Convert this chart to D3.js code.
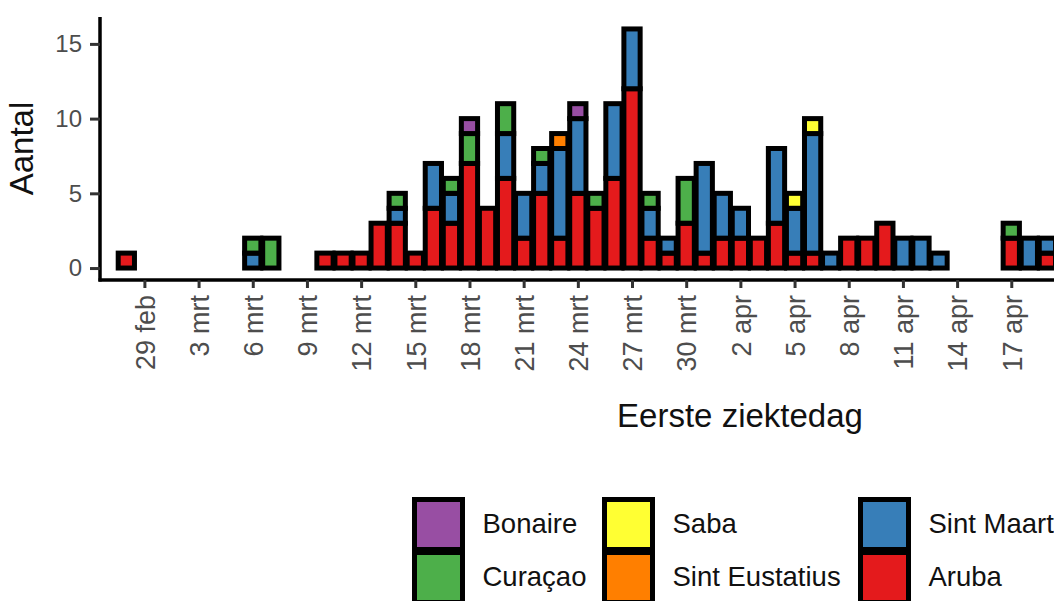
<!DOCTYPE html>
<html>
<head>
<meta charset="utf-8">
<script src="https://cdn.jsdelivr.net/npm/d3@7"></script>
<style>
body { margin: 0; background: #fff; }
text { font-family: "Liberation Sans", Arial, sans-serif; }
</style>
</head>
<body>
<div id="chart"></div>
<script>
var w = 1054,
    h = 601;

// one value per day, 28 feb .. 19 apr 2020
var firstDay = new Date(2020, 1, 28),
    lastDay = new Date(2020, 3, 19);

var aruba        = [1,0,0,0,0,0,0,0,0,0,0, 1,1,1,3,3,1,4,3,7,4,6, 2,5,2,5,4,6,12,2,1,3,1, 2,2,2,3,1,1,0,2,2,3,0, 0,0,0,0,0,2,0,1];
var sintMaarten  = [0,0,0,0,0,0,0,1,0,0,0, 0,0,0,0,1,0,3,2,0,0,3, 3,2,6,5,0,5,4,2,1,0,6, 3,2,0,5,3,8,1,0,0,0,2, 2,1,0,0,0,0,2,1];
var sintEust     = [0,0,0,0,0,0,0,0,0,0,0, 0,0,0,0,0,0,0,0,0,0,0, 0,0,1,0,0,0,0,0,0,0,0, 0,0,0,0,0,0,0,0,0,0,0, 0,0,0,0,0,0,0,0];
var saba         = [0,0,0,0,0,0,0,0,0,0,0, 0,0,0,0,0,0,0,0,0,0,0, 0,0,0,0,0,0,0,0,0,0,0, 0,0,0,0,1,1,0,0,0,0,0, 0,0,0,0,0,0,0,0];
var curacao      = [0,0,0,0,0,0,0,1,2,0,0, 0,0,0,0,1,0,0,1,2,0,2, 0,1,0,0,1,0,0,1,0,3,0, 0,0,0,0,0,0,0,0,0,0,0, 0,0,0,0,0,1,0,0];
var bonaire      = [0,0,0,0,0,0,0,0,0,0,0, 0,0,0,0,0,0,0,0,1,0,0, 0,0,0,1,0,0,0,0,0,0,0, 0,0,0,0,0,0,0,0,0,0,0, 0,0,0,0,0,0,0,0];

// stack order bottom -> top
var islands = ["Aruba", "Sint Maarten", "Sint Eustatius", "Saba", "Curaçao", "Bonaire"];
var series = [aruba, sintMaarten, sintEust, saba, curacao, bonaire];
var colors = ["#E41A1C", "#377EB8", "#FF7F00", "#FFFF33", "#4DAF4A", "#984EA3"];

// legend order (column wise)
var legendOrder = ["Bonaire", "Curaçao", "Saba", "Sint Eustatius", "Sint Maarten", "Aruba"];

var tickDays = [new Date(2020,1,29), new Date(2020,2,3), new Date(2020,2,6), new Date(2020,2,9),
                new Date(2020,2,12), new Date(2020,2,15), new Date(2020,2,18), new Date(2020,2,21),
                new Date(2020,2,24), new Date(2020,2,27), new Date(2020,2,30), new Date(2020,3,2),
                new Date(2020,3,5), new Date(2020,3,8), new Date(2020,3,11), new Date(2020,3,14),
                new Date(2020,3,17)];
var tickLabels = ["29 feb","3 mrt","6 mrt","9 mrt","12 mrt","15 mrt","18 mrt","21 mrt","24 mrt",
                  "27 mrt","30 mrt","2 apr","5 apr","8 apr","11 apr","14 apr","17 apr"];

var days = d3.timeDay.range(firstDay, d3.timeDay.offset(lastDay, 1));

var table = days.map(function (d, i) {
    var row = { day: d };
    islands.forEach(function (k, j) { row[k] = series[j][i]; });
    return row;
});

var stacked = d3.stack().keys(islands)(table);

var dayW = 18.06,
    left = 100,
    axisY = 280;

var x = d3.scaleTime()
    .domain([d3.timeHour.offset(firstDay, -35), new Date(2020, 4, 1)])
    .range([left, left + dayW * (35 / 24 + 63)]);

var y = d3.scaleLinear().domain([-0.8, 16.8]).range([axisY, 17]);

var svg = d3.select("#chart")
    .append("svg")
    .attr("width", w)
    .attr("height", h);

// bars
var barW = dayW * 0.9;
svg.append("g")
    .selectAll("g")
    .data(stacked)
    .enter()
    .append("g")
    .attr("fill", function (d, i) { return colors[i]; })
    .selectAll("rect")
    .data(function (d) { return d.filter(function (s) { return s[1] > s[0]; }); })
    .enter()
    .append("rect")
    .attr("x", function (d) { return x(d.data.day) - barW / 2; })
    .attr("y", function (d) { return y(d[1]); })
    .attr("width", barW)
    .attr("height", function (d) { return y(d[0]) - y(d[1]); })
    .attr("stroke", "#000")
    .attr("stroke-width", 5);

// y axis
var yAxis = d3.axisLeft(y).tickValues([0, 5, 10, 15]).tickSize(10).tickPadding(8);
var gy = svg.append("g")
    .attr("transform", "translate(" + left + ",0)")
    .call(yAxis);
gy.select(".domain").attr("stroke", "#000").attr("stroke-width", 3.5)
    .attr("d", "M0," + y(16.8) + "V" + (axisY + 1.5));
gy.selectAll(".tick line").attr("stroke", "#333").attr("stroke-width", 3);
gy.selectAll(".tick text")
    .style("font-size", "24px")
    .attr("fill", "#4D4D4D");

// x axis
var xAxis = d3.axisBottom(x)
    .tickValues(tickDays)
    .tickSize(8)
    .tickFormat(function (d, i) { return tickLabels[i]; });
var gx = svg.append("g")
    .attr("transform", "translate(0," + axisY + ")")
    .call(xAxis);
gx.select(".domain").attr("stroke", "#000").attr("stroke-width", 3.5)
    .attr("d", "M" + (left - 1.5) + ",0H" + w * 1.3);
gx.selectAll(".tick line").attr("stroke", "#333").attr("stroke-width", 3);
gx.selectAll(".tick text")
    .style("font-size", "27px")
    .attr("fill", "#4D4D4D")
    .attr("text-anchor", "end")
    .attr("transform", "rotate(-90)")
    .attr("x", -15)
    .attr("y", 0)
    .attr("dy", "0.36em");

// axis titles
svg.append("text")
    .attr("transform", "translate(33,148.5) rotate(-90)")
    .attr("text-anchor", "middle")
    .style("font-size", "33px")
    .attr("fill", "#111")
    .text("Aantal");

svg.append("text")
    .attr("x", 740)
    .attr("y", 427)
    .attr("text-anchor", "middle")
    .style("font-size", "33px")
    .attr("fill", "#111")
    .text("Eerste ziektedag");

// legend
var keyW = 48, keyH = 50, rowH = 53;
var colX = [414.5, 604.5, 860.5];
var legend = svg.append("g");
legendOrder.forEach(function (name, i) {
    var col = Math.floor(i / 2), row = i % 2;
    var g = legend.append("g")
        .attr("transform", "translate(" + colX[col] + "," + (499.5 + row * rowH) + ")");
    g.append("rect")
        .attr("width", keyW)
        .attr("height", keyH)
        .attr("fill", colors[islands.indexOf(name)])
        .attr("stroke", "#000")
        .attr("stroke-width", 5);
    g.append("text")
        .attr("x", keyW + 20)
        .attr("y", 33)
        .style("font-size", "27.5px")
        .attr("fill", "#111")
        .text(name);
});
</script>
</body>
</html>
